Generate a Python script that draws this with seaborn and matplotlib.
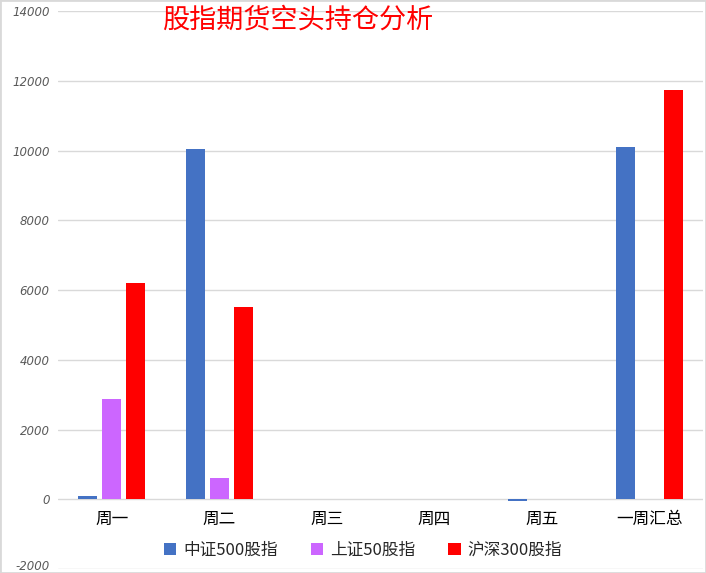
import matplotlib
matplotlib.use("Agg")
import matplotlib.pyplot as plt
import matplotlib.transforms as mtrans
import seaborn as sns
import pandas as pd
from matplotlib.patches import Rectangle

categories = ["周一", "周二", "周三", "周四", "周五", "一周汇总"]
series_names = ["中证500股指", "上证50股指", "沪深300股指"]
zz500 = [100, 10050, 0, 0, -50, 10100]
sz50 = [2890, 600, 0, 0, 0, 0]
hs300 = [6200, 5520, 0, 0, 0, 11750]
colors = ["#4472C4", "#CC66FF", "#FF0000"]
yticks = list(range(-2000, 14001, 2000))
title = "股指期货空头持仓分析"

rows = []
for name, vals in zip(series_names, [zz500, sz50, hs300]):
    for c, v in zip(categories, vals):
        rows.append({"day": c, "value": v, "series": name})
df = pd.DataFrame(rows)

sns.set_theme(style="white")
plt.rcParams['font.family'] = ['Noto Sans CJK SC', 'DejaVu Sans']

fig = plt.figure(figsize=(7.06, 5.73), dpi=100)
ax = fig.add_axes([58/706, 1-569/573, 645/706, (569-11.3)/573])

sns.barplot(data=df, x="day", y="value", hue="series", order=categories,
            hue_order=series_names, palette=colors, width=0.67, gap=0.2,
            ax=ax, legend=True, saturation=1, linewidth=0)

ax.set_ylim(-2000, 14000)
ax.set_xlim(-0.5, 5.5)
ax.set_yticks(yticks)
ax.set_yticklabels([str(t) for t in yticks], fontstyle="italic", color="#595959",
                   fontsize=8.5, family=['DejaVu Sans'])
ax.tick_params(axis="y", length=0, pad=6)
ax.set_xticks([])
ax.set_xlabel("")
ax.set_ylabel("")
for s in ax.spines.values():
    s.set_visible(False)
ax.yaxis.grid(True, color="#d9d9d9", linewidth=1)
ax.set_axisbelow(True)

fig.canvas.draw()
lowest = ax.get_yticklabels()[0]
lowest.set_transform(lowest.get_transform() + mtrans.ScaledTranslation(0, 4/100, fig.dpi_scale_trans))

for i, c in enumerate(categories):
    ax.text(i, -590, c, ha="center", va="center", fontsize=12, color="black")

handles, labels = ax.get_legend_handles_labels()
ax.legend(handles, labels, loc="center", bbox_to_anchor=(363/706, 1-550/573),
          bbox_transform=fig.transFigure, ncol=3, frameon=False, fontsize=12,
          handlelength=0.75, handleheight=0.75, handletextpad=0.4, columnspacing=2.0)

fig.text(298/706, 1-20/573, title, ha="center", va="center", fontsize=19.5, color="#FF0000")

fig.patches.append(Rectangle((0, 0), 1, 1, transform=fig.transFigure, fill=False,
                             edgecolor="#d9d9d9", linewidth=2))

fig.savefig("out.png", dpi=100)
